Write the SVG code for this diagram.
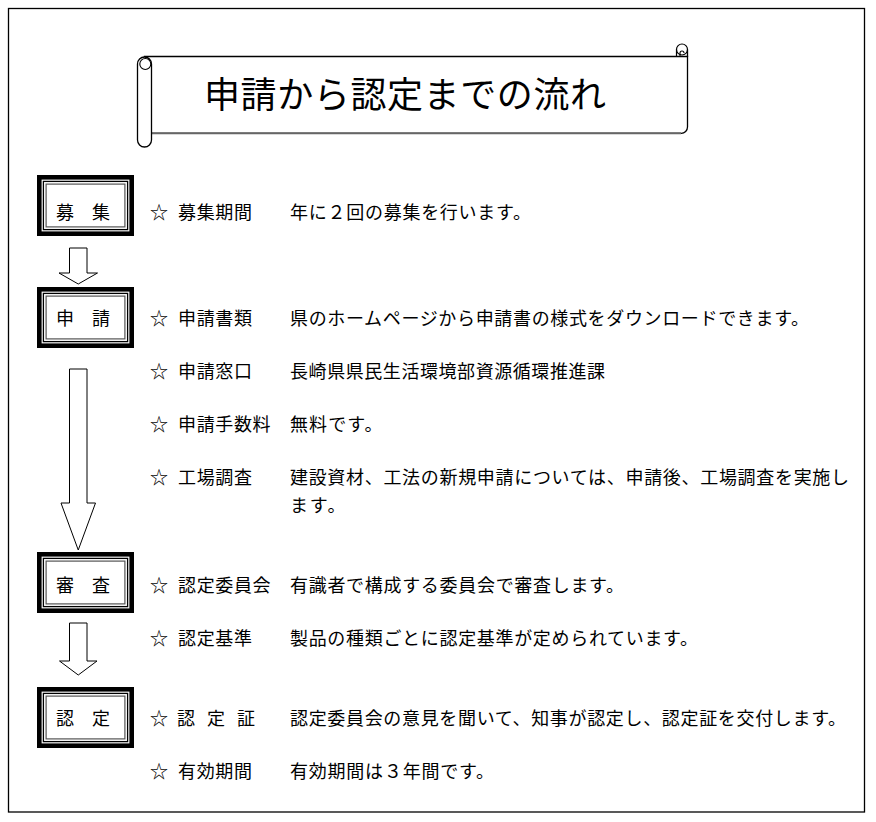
<svg xmlns="http://www.w3.org/2000/svg" xmlns:xlink="http://www.w3.org/1999/xlink" width="876" height="822" viewBox="0 0 876 822">
<style>
  text { font-family: "Noto Sans CJK JP", "Noto Sans CJK SC", sans-serif; fill: #000; }
  .t { font-size: 18px; }
  .title { font-size: 36px; }
  .arrow { fill: #fff; stroke: #000; stroke-width: 1; stroke-linejoin: miter; }
  .scroll { fill: #fff; stroke: #000; stroke-width: 1.3; }
</style>
<defs>
  <g id="frame">
    <rect x="2.3" y="2.3" width="92.4" height="56.4" fill="#fff" stroke="#000" stroke-width="4.6"/>
    <rect x="6.4" y="6.4" width="84.2" height="48.2" fill="none" stroke="#000" stroke-width="1.3"/>
    <rect x="9.1" y="9.1" width="78.8" height="42.8" fill="none" stroke="#555" stroke-width="1.2"/>
  </g>
</defs>
<rect width="876" height="822" fill="#fff"/>
<rect x="8.5" y="8.5" width="856" height="803.5" fill="none" stroke="#000" stroke-width="1.3"/>

<g id="title-scroll">
  <path class="scroll" d="M144.5,56.5 H687.5 V127 A6.3,6.3 0 0 1 681.2,133.3 H151.5 Z"/>
  <line x1="151.5" y1="133.3" x2="681" y2="133.3" stroke="#666" stroke-width="2"/>
  <circle cx="682" cy="49.5" r="5.5" fill="#fff" stroke="#000" stroke-width="1.2"/>
  <line x1="676.5" y1="49.5" x2="676.5" y2="56.5" stroke="#000" stroke-width="1.2"/>
  <line x1="687.5" y1="49.5" x2="687.5" y2="57" stroke="#000" stroke-width="1.3"/>
  <path fill="none" stroke="#000" stroke-width="1.1" d="M680,56 V53 A2,2 0 0 1 684,53"/>
  <rect class="scroll" x="137.5" y="57" width="14" height="90" rx="7" ry="7"/>
  <circle cx="145.3" cy="64" r="5.5" fill="#fff" stroke="#000" stroke-width="1.1"/>
  <text class="title" x="204" y="108" textLength="402" lengthAdjust="spacing">申請から認定までの流れ</text>
</g>

<g id="connectors">
  <path class="arrow" d="M69.5,248 H87 V273 H97.5 L78.25,284 L59,273 H69.5 Z"/>
  <path class="arrow" d="M69.5,369 H87 V503 H95.5 L78.25,550 L61,503 H69.5 Z"/>
  <path class="arrow" d="M69.5,623 H87 V661 H97 L78.25,675 L59.5,661 H69.5 Z"/>
</g>

<g id="node-boshu">
  <use xlink:href="#frame" href="#frame" transform="translate(37,175)"/>
  <text class="t" y="219"><tspan x="56">募</tspan><tspan x="92">集</tspan></text>
</g>
<g id="node-shinsei">
  <use xlink:href="#frame" href="#frame" transform="translate(37,287)"/>
  <text class="t" y="325"><tspan x="56">申</tspan><tspan x="92">請</tspan></text>
</g>
<g id="node-shinsa">
  <use xlink:href="#frame" href="#frame" transform="translate(37,552)"/>
  <text class="t" y="592"><tspan x="56">審</tspan><tspan x="92">査</tspan></text>
</g>
<g id="node-nintei">
  <use xlink:href="#frame" href="#frame" transform="translate(37,687)"/>
  <text class="t" y="725"><tspan x="56">認</tspan><tspan x="92">定</tspan></text>
</g>

<g id="items">
  <text class="t" x="150" y="219">☆</text><text class="t" x="178" y="219" textLength="74" lengthAdjust="spacing">募集期間</text><text class="t" x="290" y="219" textLength="241" lengthAdjust="spacing">年に２回の募集を行います。</text>
  <text class="t" x="150" y="325">☆</text><text class="t" x="178" y="325" textLength="74" lengthAdjust="spacing">申請書類</text><text class="t" x="290" y="325" textLength="519" lengthAdjust="spacing">県のホームページから申請書の様式をダウンロードできます。</text>
  <text class="t" x="150" y="378">☆</text><text class="t" x="178" y="378" textLength="74" lengthAdjust="spacing">申請窓口</text><text class="t" x="290" y="378" textLength="315" lengthAdjust="spacing">長崎県県民生活環境部資源循環推進課</text>
  <text class="t" x="150" y="431">☆</text><text class="t" x="178" y="431" textLength="92.5" lengthAdjust="spacing">申請手数料</text><text class="t" x="290" y="431" textLength="92.5" lengthAdjust="spacing">無料です。</text>
  <text class="t" x="150" y="484">☆</text><text class="t" x="178" y="484" textLength="74" lengthAdjust="spacing">工場調査</text><text class="t" x="290" y="484" textLength="559" lengthAdjust="spacing">建設資材、工法の新規申請については、申請後、工場調査を実施し</text>
  <text class="t" x="290" y="512" textLength="55.6" lengthAdjust="spacing">ます。</text>
  <text class="t" x="150" y="592">☆</text><text class="t" x="178" y="592" textLength="92.5" lengthAdjust="spacing">認定委員会</text><text class="t" x="290" y="592" textLength="334" lengthAdjust="spacing">有識者で構成する委員会で審査します。</text>
  <text class="t" x="150" y="645">☆</text><text class="t" x="178" y="645" textLength="74" lengthAdjust="spacing">認定基準</text><text class="t" x="290" y="645" textLength="408" lengthAdjust="spacing">製品の種類ごとに認定基準が定められています。</text>
  <text class="t" x="150" y="725">☆</text><text class="t" y="725"><tspan x="177">認</tspan><tspan x="207">定</tspan><tspan x="237">証</tspan></text><text class="t" x="290" y="725" textLength="556" lengthAdjust="spacing">認定委員会の意見を聞いて、知事が認定し、認定証を交付します。</text>
  <text class="t" x="150" y="778">☆</text><text class="t" x="178" y="778" textLength="74" lengthAdjust="spacing">有効期間</text><text class="t" x="290" y="778" textLength="204" lengthAdjust="spacing">有効期間は３年間です。</text>
</g>
</svg>
